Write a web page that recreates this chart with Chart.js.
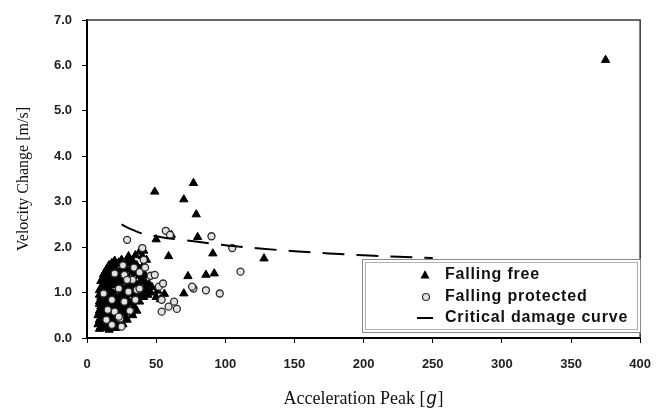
<!DOCTYPE html>
<html>
<head>
<meta charset="utf-8">
<script src="https://cdn.jsdelivr.net/npm/chart.js@4/dist/chart.umd.min.js"></script>
<style>
  html, body { margin: 0; padding: 0; background: #fff; }
  #wrap { width: 665px; height: 409px; }
</style>
</head>
<body>
<div id="wrap"><canvas id="c" width="665" height="409"></canvas></div>
<script>
// ---- data ----
const xTicks = [0, 50, 100, 150, 200, 250, 300, 350, 400];
const yTicks = [0, 1, 2, 3, 4, 5, 6, 7];

// Falling free (triangles)
const freeX = [49, 77, 70, 79, 61, 50, 80, 59, 91, 73, 86, 92, 70, 51, 56, 50, 128, 375, 47, 53, 44,
  38, 41, 30, 35, 40, 20, 25, 29, 33, 43, 16, 21, 27, 36, 41, 14, 18, 24, 31, 38,
  12, 16, 22, 28, 35, 42, 11, 14, 19, 25, 32, 40, 12, 17, 22, 30, 38, 45,
  10, 15, 26, 33, 42, 11, 14, 19, 25, 37, 46, 10, 13, 21, 28, 35, 41,
  9, 14, 20, 24, 30, 38, 10, 12, 17, 23, 28, 34, 9, 13, 18, 25, 30, 36,
  8, 11, 16, 21, 27, 33, 9, 12, 15, 19, 24, 29, 8, 10, 14, 20, 26, 9, 12, 16, 21,
  18, 23, 31, 15, 20, 26, 34, 13, 19, 26, 33, 40, 12, 17, 22, 29, 38, 10, 15, 20, 27, 34, 42,
  11, 18, 24, 29, 36, 9, 13, 17, 22, 31, 40, 44, 9, 12, 17, 24, 32, 39, 10, 16, 22, 27, 34,
  9, 15, 20, 26, 32, 10, 15, 21, 27, 9, 14, 19, 24, 32, 10, 13, 18, 22, 28, 9, 11, 16, 22, 10, 13, 18];
const freeY = [3.22, 3.41, 3.05, 2.72, 2.27, 2.17, 2.22, 1.80, 1.86, 1.36, 1.39, 1.42, 0.98, 1.04, 0.97, 0.90, 1.75, 6.12, 1.12, 0.85, 0.95,
  1.9, 1.92, 1.8, 1.82, 1.8, 1.7, 1.72, 1.68, 1.7, 1.72, 1.6, 1.62, 1.58, 1.6, 1.62, 1.5, 1.52, 1.48, 1.5, 1.52,
  1.4, 1.42, 1.38, 1.4, 1.42, 1.38, 1.3, 1.28, 1.32, 1.3, 1.28, 1.32, 1.2, 1.22, 1.18, 1.2, 1.22, 1.18,
  1.1, 1.12, 1.08, 1.1, 1.12, 1.0, 1.02, 0.98, 1.0, 1.02, 1.0, 0.9, 0.92, 0.88, 0.9, 0.92, 0.9,
  0.8, 0.82, 0.78, 0.8, 0.82, 0.8, 0.7, 0.72, 0.68, 0.7, 0.72, 0.7, 0.6, 0.62, 0.58, 0.6, 0.62, 0.6,
  0.5, 0.52, 0.48, 0.5, 0.52, 0.5, 0.4, 0.42, 0.38, 0.4, 0.42, 0.4, 0.3, 0.32, 0.28, 0.3, 0.3, 0.2, 0.22, 0.18, 0.22,
  1.65, 1.66, 1.64, 1.55, 1.56, 1.54, 1.55, 1.45, 1.46, 1.44, 1.45, 1.47, 1.35, 1.36, 1.34, 1.35, 1.37, 1.25, 1.26, 1.24, 1.25, 1.26, 1.24,
  1.15, 1.16, 1.14, 1.15, 1.16, 1.05, 1.06, 1.04, 1.05, 1.06, 1.04, 1.05, 0.95, 0.96, 0.94, 0.95, 0.96, 0.94, 0.85, 0.86, 0.84, 0.85, 0.86,
  0.75, 0.76, 0.74, 0.75, 0.76, 0.65, 0.66, 0.64, 0.65, 0.55, 0.56, 0.54, 0.55, 0.56, 0.45, 0.46, 0.44, 0.45, 0.46, 0.35, 0.36, 0.34, 0.35, 0.25, 0.26, 0.24];

// Falling protected (circles)
const protX = [20, 27, 33, 36, 23, 30, 18, 27, 35, 20, 24, 15, 18, 12, 29, 38, 41, 23, 29, 40, 46, 26, 34, 14, 31, 38, 42, 25,
  49, 52, 54, 57, 60, 90, 105, 111, 86, 96, 77, 54, 59, 65, 63, 55, 76];
const protY = [1.42, 1.39, 1.28, 1.06, 1.09, 1.02, 0.84, 0.80, 0.84, 0.58, 0.43, 0.62, 0.29, 0.98, 1.28, 1.09, 1.72, 0.47, 2.16, 1.98, 1.37, 1.60, 1.55, 0.40, 0.60, 1.45, 1.55, 0.25,
  1.39, 1.13, 0.84, 2.36, 2.27, 2.24, 1.98, 1.46, 1.05, 0.98, 1.09, 0.58, 0.69, 0.64, 0.80, 1.20, 1.13];

// Critical damage curve
const curveX = [25, 30, 40, 50, 60, 80, 100, 125, 150, 175, 200, 225, 250];
const curveY = [2.50, 2.42, 2.30, 2.24, 2.19, 2.12, 2.04, 1.97, 1.91, 1.86, 1.82, 1.79, 1.76];

const seriesNames = ['Falling free', 'Falling protected', 'Critical damage curve'];
const xTitle = 'Acceleration Peak [';
const xTitleItalic = 'g';
const xTitleEnd = ']';
const yTitle = 'Velocity Change [m/s]';

const toPts = (xs, ys) => xs.map((x, i) => ({ x: x, y: ys[i] }));

const framePlugin = {
  id: 'frame',
  afterDraw(chart) {
    const { ctx, chartArea: a } = chart;
    ctx.save();
    ctx.strokeStyle = '#333';
    ctx.lineWidth = 1.5;
    ctx.beginPath();
    ctx.moveTo(a.left, a.top);
    ctx.lineTo(a.right, a.top);
    ctx.lineTo(a.right, a.bottom);
    ctx.stroke();

    // legend box
    const bx = 362, by = 259, bw = 278, bh = 73;
    ctx.fillStyle = '#fff';
    ctx.fillRect(bx, by, bw, bh);
    ctx.strokeStyle = '#8a8a8a';
    ctx.lineWidth = 1;
    ctx.strokeRect(bx + 0.5, by + 0.5, bw, bh);
    ctx.strokeStyle = '#b0b0b0';
    ctx.strokeRect(bx + 3.5, by + 3.5, bw - 6, bh - 6);

    const rows = [275, 297, 318];
    const mx = 425;
    // triangle
    ctx.fillStyle = '#000';
    ctx.beginPath();
    ctx.moveTo(mx, rows[0] - 5); ctx.lineTo(mx + 4.5, rows[0] + 3.5); ctx.lineTo(mx - 4.5, rows[0] + 3.5); ctx.closePath();
    ctx.fill();
    // circle
    ctx.beginPath();
    ctx.arc(mx + 1, rows[1], 3.5, 0, Math.PI * 2);
    ctx.fillStyle = '#e2e2e2'; ctx.fill();
    ctx.strokeStyle = '#333'; ctx.lineWidth = 1.2; ctx.stroke();
    // dash
    ctx.beginPath();
    ctx.moveTo(mx - 8, rows[2]); ctx.lineTo(mx + 8, rows[2]);
    ctx.strokeStyle = '#000'; ctx.lineWidth = 2; ctx.stroke();

    ctx.fillStyle = '#111';
    ctx.font = 'bold 16px "Liberation Sans", Arial, sans-serif';
    try { ctx.letterSpacing = '0.8px'; } catch (e) {}
    ctx.textBaseline = 'middle';
    ctx.textAlign = 'left';
    seriesNames.forEach((n, i) => ctx.fillText(n, 445, rows[i]));
    try { ctx.letterSpacing = '0px'; } catch (e) {}

    // x title with italic g
    const serif = '18px "Liberation Serif", "Times New Roman", serif';
    const ital = 'italic 18px "Liberation Sans", Arial, sans-serif';
    ctx.fillStyle = '#111';
    ctx.textBaseline = 'alphabetic';
    ctx.font = serif;
    const w1 = ctx.measureText(xTitle).width;
    const w3 = ctx.measureText(xTitleEnd).width;
    ctx.font = ital;
    const w2 = ctx.measureText(xTitleItalic).width;
    const total = w1 + w2 + w3 + 2;
    let sx = (a.left + a.right) / 2 - total / 2;
    const baseY = 404;
    ctx.font = serif; ctx.fillText(xTitle, sx, baseY); sx += w1 + 1;
    ctx.font = ital; ctx.fillText(xTitleItalic, sx, baseY); sx += w2 + 1;
    ctx.font = serif; ctx.fillText(xTitleEnd, sx, baseY);
    ctx.restore();
  }
};

const tickFont = { family: '"Liberation Sans", Arial, sans-serif', size: 13, weight: 'bold' };

new Chart(document.getElementById('c'), {
  type: 'scatter',
  data: {
    datasets: [
      {
        label: seriesNames[2],
        data: toPts(curveX, curveY),
        showLine: true,
        borderColor: '#000',
        borderWidth: 2,
        borderDash: [22, 12],
        pointRadius: 0,
        tension: 0.3,
        order: 0
      },
      {
        label: seriesNames[1],
        data: toPts(protX, protY),
        pointStyle: 'circle',
        pointRadius: 3.5,
        borderWidth: 1.3,
        borderColor: '#2a2a2a',
        backgroundColor: '#e2e2e2',
        order: 1
      },
      {
        label: seriesNames[0],
        data: toPts(freeX, freeY),
        pointStyle: 'triangle',
        pointRadius: 4.8,
        borderWidth: 1,
        borderColor: '#000',
        backgroundColor: '#000',
        order: 2
      }
    ]
  },
  options: {
    responsive: false,
    animation: false,
    devicePixelRatio: 1,
    layout: { padding: { left: 0, right: 24, top: 20, bottom: 0 } },
    plugins: {
      legend: { display: false },
      tooltip: { enabled: false }
    },
    scales: {
      x: {
        type: 'linear',
        min: 0, max: 400,
        afterBuildTicks: s => { s.ticks = xTicks.map(v => ({ value: v })); },
        afterFit: s => { s.height = 71; },
        ticks: { font: tickFont, color: '#222', padding: 14, maxRotation: 0 },
        grid: { drawOnChartArea: false, drawTicks: true, tickLength: 5, color: '#000', lineWidth: 1 },
        border: { display: true, color: '#000', width: 2 },
        title: { display: false }
      },
      y: {
        type: 'linear',
        min: 0, max: 7,
        afterBuildTicks: s => { s.ticks = yTicks.map(v => ({ value: v })); },
        afterFit: s => { s.width = 87; },
        ticks: { font: tickFont, color: '#222', padding: 10, callback: v => Number(v).toFixed(1) },
        grid: { drawOnChartArea: false, drawTicks: true, tickLength: 5, color: '#000', lineWidth: 1 },
        border: { display: true, color: '#000', width: 2 },
        title: {
          display: true,
          text: yTitle,
          color: '#111',
          font: { family: '"Liberation Serif", "Times New Roman", serif', size: 16, weight: 'normal' },
          padding: { top: 14, bottom: 0 }
        }
      }
    }
  },
  plugins: [framePlugin]
});
</script>
</body>
</html>
